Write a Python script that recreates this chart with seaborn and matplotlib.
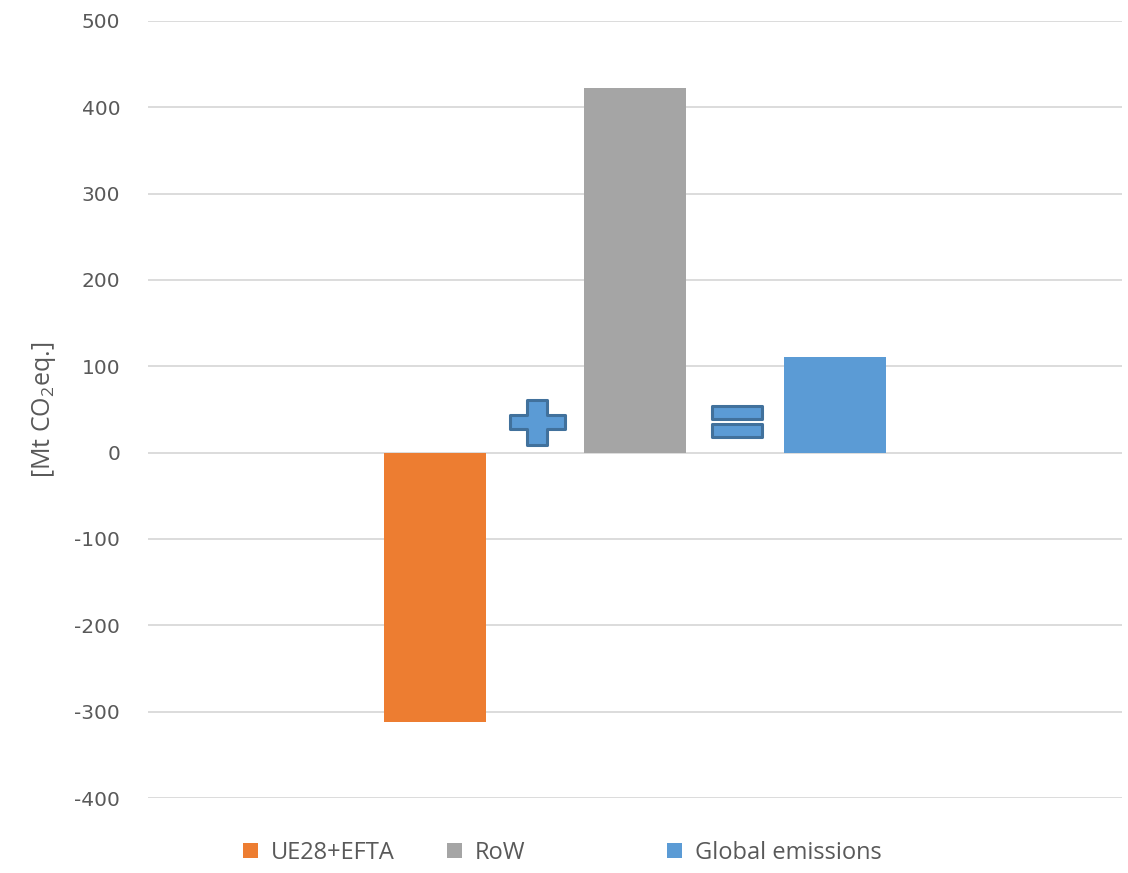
import numpy as np
import matplotlib
matplotlib.use("Agg")
import matplotlib.pyplot as plt
import seaborn as sns
from matplotlib.patches import Patch
from matplotlib.path import Path

# data
categories = ["UE28+EFTA", "RoW", "Global emissions"]
values = [-312, 422, 111]
colors = ["#ED7D31", "#A5A5A5", "#5B9BD5"]
yticks = [-400, -300, -200, -100, 0, 100, 200, 300, 400, 500]

sns.set_theme(style="white")
plt.rcParams["font.family"] = ["Open Sans", "DejaVu Sans"]
plt.rcParams["mathtext.default"] = "regular"

fig = plt.figure(figsize=(11.28, 8.73), dpi=100)
ax = fig.add_axes([0.1312, 0.0859, 0.8635, 0.8901])

sns.barplot(x=categories, y=values, hue=categories, palette=colors,
            width=0.51, legend=False, saturation=1, linewidth=0, ax=ax)

ax.set_xlim(-1.435, 3.435)
ax.set_ylim(-400, 500)
ax.set_yticks(yticks)
ax.set_yticklabels([str(v) for v in yticks], fontsize=14.5, color="#595959",
                   family="DejaVu Sans")
ax.set_xticks([])
ax.set_xlabel("")
ax.grid(axis="y", color="#D9D9D9", linewidth=1.3)
ax.set_axisbelow(True)
for s in ax.spines.values():
    s.set_visible(False)
ax.tick_params(axis="y", length=0, pad=20)
ax.set_ylabel("[Mt CO$_2$eq.]", fontsize=18, color="#595959", labelpad=12)

# plus and equals signs between the bars (custom marker shapes)
plus_verts = [(-10, 22.5), (10, 22.5), (10, 7.5), (27.5, 7.5), (27.5, -7.5),
              (10, -7.5), (10, -22.5), (-10, -22.5), (-10, -7.5), (-27.5, -7.5),
              (-27.5, 7.5), (-10, 7.5), (-10, 22.5)]
plus_marker = Path(plus_verts, closed=True)
eq_verts = [(-25, 2.5), (25, 2.5), (25, 15.5), (-25, 15.5), (-25, 2.5),
            (-25, -2.5), (25, -2.5), (25, -15.5), (-25, -15.5), (-25, -2.5)]
eq_codes = [Path.MOVETO, Path.LINETO, Path.LINETO, Path.LINETO, Path.CLOSEPOLY] * 2
eq_marker = Path(eq_verts, eq_codes)

ax.scatter([0.51], [36], marker=plus_marker, s=(55 * 0.72) ** 2, color="#5B9BD5",
           edgecolor="#41719C", linewidth=2.2, zorder=5)
ax.scatter([1.51], [37], marker=eq_marker, s=(50 * 0.72) ** 2, color="#5B9BD5",
           edgecolor="#41719C", linewidth=2.2, zorder=5)

# legend entries placed like the original
legend_x = [243 / 1128, 447 / 1128, 667 / 1128]
for c, lab, lx in zip(colors, categories, legend_x):
    fig.legend([Patch(facecolor=c, edgecolor="none")], [lab], loc="center left",
               bbox_to_anchor=(lx, 1 - 853 / 873), frameon=False, fontsize=17,
               handlelength=0.62, handleheight=0.62, handletextpad=0.55,
               borderpad=0, borderaxespad=0, labelcolor="#595959")

fig.savefig("out.png", dpi=100)
